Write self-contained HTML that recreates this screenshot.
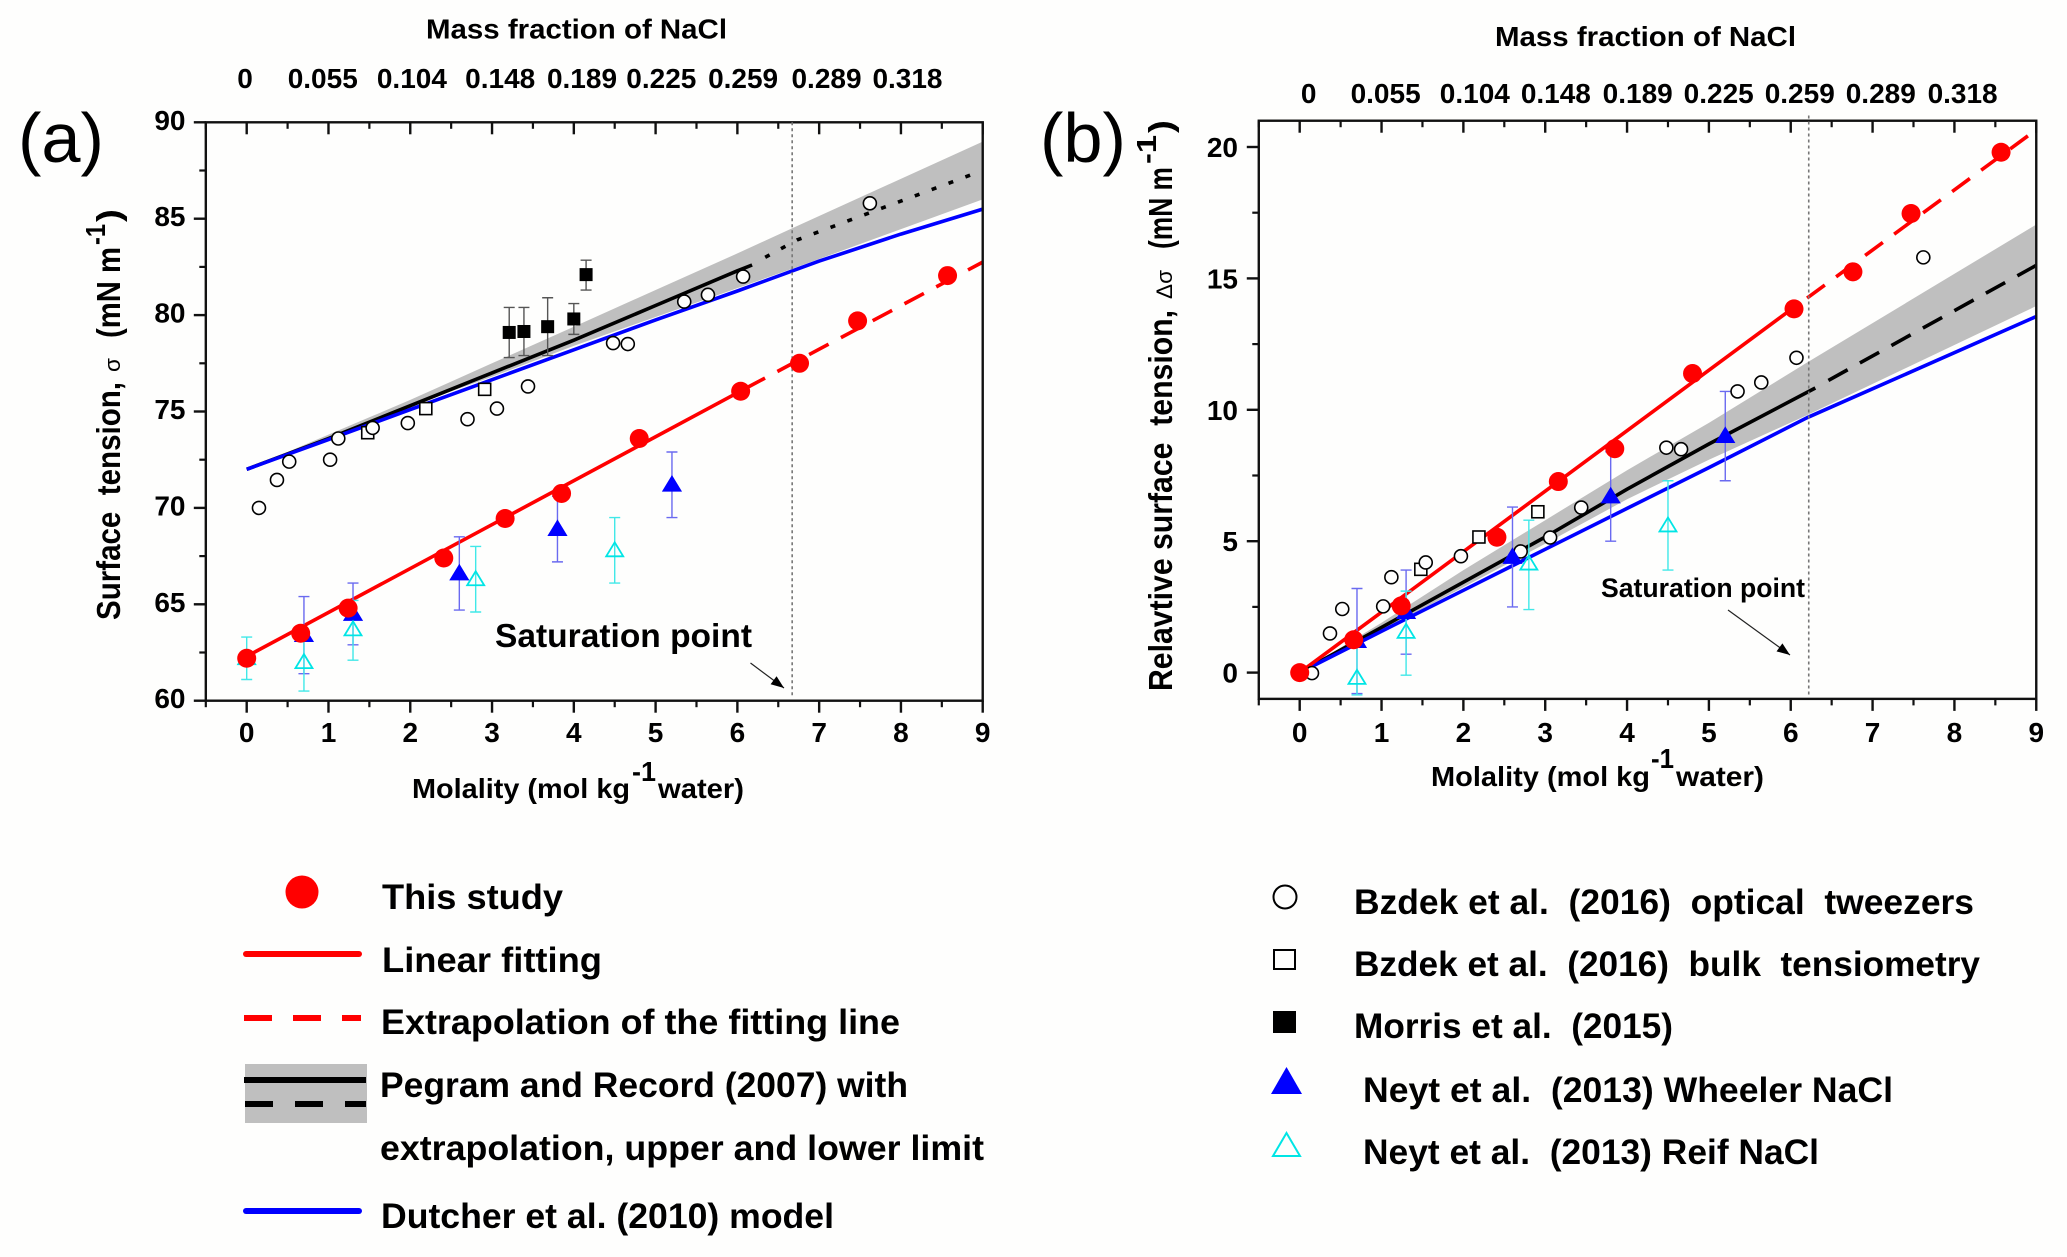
<!DOCTYPE html>
<html lang="en">
<head>
<meta charset="utf-8">
<title>Surface tension of NaCl solutions</title>
<style>
html,body{margin:0;padding:0;background:#fefefd;}
svg{display:block;}
text{font-family:"Liberation Sans",sans-serif;font-weight:bold;fill:#000;white-space:pre;}
.reg{font-weight:normal;}
</style>
</head>
<body>
<svg id="figure" xmlns="http://www.w3.org/2000/svg" width="2067" height="1257" viewBox="0 0 2067 1257">
  <rect x="0" y="0" width="2067" height="1257" fill="#fefefd"/>
  <g id="panelA"></g>
  <g id="panelB"></g>

  <!-- Panel a text -->
  <text class="reg" x="18" y="162" font-size="70" textLength="86" lengthAdjust="spacingAndGlyphs">(a)</text>
  <text x="426" y="38.5" font-size="28" textLength="301" lengthAdjust="spacingAndGlyphs">Mass fraction of NaCl</text>
  <text x="412" y="798" font-size="28" textLength="218" lengthAdjust="spacingAndGlyphs">Molality (mol kg</text>
  <text x="632" y="781" font-size="28" textLength="24" lengthAdjust="spacingAndGlyphs">-1</text>
  <text x="658" y="798" font-size="28" textLength="86" lengthAdjust="spacingAndGlyphs">water)</text>
  <text transform="translate(120,620) rotate(-90)" font-size="33" textLength="238" lengthAdjust="spacingAndGlyphs">Surface  tension,</text>
  <text class="reg" transform="translate(120,372) rotate(-90)" font-size="22" textLength="14" lengthAdjust="spacingAndGlyphs">σ</text>
  <text transform="translate(120,338) rotate(-90)" font-size="33" textLength="91" lengthAdjust="spacingAndGlyphs">(mN m</text>
  <text transform="translate(105,245) rotate(-90)" font-size="28" textLength="21" lengthAdjust="spacingAndGlyphs">-1</text>
  <text transform="translate(120,222) rotate(-90)" font-size="33" textLength="13" lengthAdjust="spacingAndGlyphs">)</text>
  <text x="495" y="647" font-size="33" textLength="257" lengthAdjust="spacingAndGlyphs">Saturation point</text>

  <!-- Panel b text -->
  <text class="reg" x="1040" y="162" font-size="70" textLength="86" lengthAdjust="spacingAndGlyphs">(b)</text>
  <text x="1495" y="46" font-size="28" textLength="301" lengthAdjust="spacingAndGlyphs">Mass fraction of NaCl</text>
  <text x="1431" y="786" font-size="28" textLength="219" lengthAdjust="spacingAndGlyphs">Molality (mol kg</text>
  <text x="1651" y="768" font-size="28" textLength="23" lengthAdjust="spacingAndGlyphs">-1</text>
  <text x="1676" y="786" font-size="28" textLength="88" lengthAdjust="spacingAndGlyphs">water)</text>
  <text transform="translate(1172,691) rotate(-90)" font-size="33" textLength="381" lengthAdjust="spacingAndGlyphs">Relavtive surface  tension,</text>
  <text class="reg" transform="translate(1172,299) rotate(-90)" font-size="22" textLength="29" lengthAdjust="spacingAndGlyphs">Δσ</text>
  <text transform="translate(1172,249) rotate(-90)" font-size="33" textLength="82" lengthAdjust="spacingAndGlyphs">(mN m</text>
  <text transform="translate(1156,164) rotate(-90)" font-size="28" textLength="29" lengthAdjust="spacingAndGlyphs">-1</text>
  <text transform="translate(1172,133) rotate(-90)" font-size="33" textLength="13" lengthAdjust="spacingAndGlyphs">)</text>
  <text x="1601" y="597" font-size="27" textLength="204" lengthAdjust="spacingAndGlyphs">Saturation point</text>

  <!-- Legend left -->
  <g>
    <circle cx="302" cy="892" r="16.5" fill="#ff0000"/>
    <text x="382" y="909" font-size="35" textLength="181" lengthAdjust="spacingAndGlyphs">This study</text>
    <line x1="246" x2="359" y1="954" y2="954" stroke="#ff0000" stroke-width="6" stroke-linecap="round"/>
    <text x="382" y="972" font-size="35" textLength="220" lengthAdjust="spacingAndGlyphs">Linear fitting</text>
    <line x1="244" x2="361" y1="1018" y2="1018" stroke="#ff0000" stroke-width="6" stroke-dasharray="28 21"/>
    <text x="381" y="1034" font-size="35" textLength="519" lengthAdjust="spacingAndGlyphs">Extrapolation of the fitting line</text>
    <rect x="245" y="1064" width="122" height="59" fill="#bfbfbf"/>
    <line x1="244" x2="366" y1="1080" y2="1080" stroke="#000" stroke-width="6"/>
    <line x1="245" x2="366" y1="1104" y2="1104" stroke="#000" stroke-width="6" stroke-dasharray="28 22"/>
    <text x="380" y="1097" font-size="35" textLength="528" lengthAdjust="spacingAndGlyphs">Pegram and Record (2007) with</text>
    <text x="380" y="1160" font-size="35" textLength="604" lengthAdjust="spacingAndGlyphs">extrapolation, upper and lower limit</text>
    <line x1="246" x2="359" y1="1211" y2="1211" stroke="#0000ff" stroke-width="6" stroke-linecap="round"/>
    <text x="381" y="1228" font-size="35" textLength="453" lengthAdjust="spacingAndGlyphs">Dutcher et al. (2010) model</text>

    <circle cx="1285" cy="897" r="11.5" fill="none" stroke="#000" stroke-width="2"/>
    <text x="1354" y="914" font-size="35" textLength="620" lengthAdjust="spacingAndGlyphs">Bzdek et al.  (2016)  optical  tweezers</text>
    <rect x="1274" y="950" width="21" height="19" fill="none" stroke="#000" stroke-width="2"/>
    <text x="1354" y="976" font-size="35" textLength="626" lengthAdjust="spacingAndGlyphs">Bzdek et al.  (2016)  bulk  tensiometry</text>
    <rect x="1273" y="1011" width="23" height="22" fill="#000"/>
    <text x="1354" y="1038" font-size="35" textLength="319" lengthAdjust="spacingAndGlyphs">Morris et al.  (2015)</text>
    <polygon points="1286.5,1067 1302,1094 1271,1094" fill="#0000ff"/>
    <text x="1363" y="1102" font-size="35" textLength="530" lengthAdjust="spacingAndGlyphs">Neyt et al.  (2013) Wheeler NaCl</text>
    <polygon points="1286.5,1133 1300,1156 1273,1156" fill="none" stroke="#00e5e5" stroke-width="2"/>
    <text x="1363" y="1164" font-size="35" textLength="456" lengthAdjust="spacingAndGlyphs">Neyt et al.  (2013) Reif NaCl</text>
  </g>
</svg>
<script>
// ---------- shared data ----------
const xTickLabels = [0,1,2,3,4,5,6,7,8,9];
const topTickLabels = ['0','0.055','0.104','0.148','0.189','0.225','0.259','0.289','0.318'];
const topLabelMolalityA = [-0.02,0.93,2.02,3.1,4.1,5.07,6.07,7.09,8.08];
const topLabelMolalityB = [0.11,1.05,2.14,3.13,4.13,5.12,6.11,7.1,8.1];

const redMolality = [0,0.66,1.24,2.41,3.16,3.85,4.8,6.04,6.76,7.47,8.57];
const circleMolality = [0.15,0.37,0.52,1.02,1.12,1.54,1.97,2.7,3.06,3.44,4.48,4.66,5.35,5.64,6.07,7.62];
const squareMolality = [1.48,2.19,2.91];
const blueTriMolality = [0.7,1.3,2.6,3.8,5.2];

// ---------- panel a values ----------
const aYTicks = [60,65,70,75,80,85,90];
const aSaturation = 6.67;
const aRed = [62.2,63.5,64.8,67.4,69.45,70.75,73.6,76.05,77.5,79.7,82.05];
const aFitMol = [0,6.1];
const aFitVal = [62.3,76.2];
const aFitExtMol = [6.1,9];
const aFitExtVal = [76.2,82.75];
const aBandMol = [0,1,1.5,2,3,4,5,6,6.67,9];
const aBandUpper = [72,73.8,74.7,75.6,77.5,79.4,81.3,83.2,84.5,89];
const aBandLower = [72,73.6,74.4,75.3,76.8,78.4,79.9,81.4,82.4,86];
const aBlackMol = [0,1,2,3,4,5,6,6.18];
const aBlackVal = [72,73.6,75.3,77,78.7,80.5,82.3,82.6];
const aBlackExtMol = [6.34,6.73,9];
const aBlackExtVal = [83,83.9,87.5];
const aBlueLineMol = [0,1,2,3,4,5,6,7,8,9];
const aBlueLineVal = [72,73.55,75.1,76.65,78.2,79.75,81.25,82.8,84.2,85.5];
const aCircles = [70,71.45,72.4,72.5,73.6,74.15,74.4,74.6,75.15,76.3,78.55,78.5,80.7,81.05,82,85.8];
const aSquares = [73.9,75.15,76.15];
const aBlackSqMol = [3.21,3.39,3.68,4,4.15];
const aBlackSq = [79.1,79.15,79.4,79.8,82.1];
const aBlackSqLo = [77.8,77.9,77.9,79,81.3];
const aBlackSqHi = [80.4,80.4,80.9,80.6,82.85];
const aBlueTri = [63.4,64.5,66.6,68.9,71.2];
const aBlueLo = [61.4,62.9,64.7,67.2,69.5];
const aBlueHi = [65.4,66.1,68.5,70.6,72.9];
const aCyanMol = [0,0.7,1.3,2.8,4.5];
const aCyan = [62.2,62,63.7,66.3,67.8];
const aCyanLo = [61.1,60.5,62.1,64.6,66.1];
const aCyanHi = [63.3,63.5,65.2,68,69.5];

// ---------- panel b values ----------
const bYTicks = [0,5,10,15,20];
const bSaturation = 6.22;
const bRed = [0,1.25,2.54,5.15,7.27,8.52,11.38,13.84,15.25,17.47,19.8];
const bFitMol = [0,6.04];
const bFitVal = [0,13.9];
const bFitExtMol = [6.2,9];
const bFitExtVal = [14.25,20.66];
const bBandMol = [0,1,2,3,4,5,6.2,9];
const bBandUpper = [0,1.9,3.9,5.8,7.7,9.5,11.8,17.05];
const bBandLower = [0,1.6,3.25,4.9,6.6,8.1,9.8,13.95];
const bBlackMol = [0,1,2,3,4,5,6.3];
const bBlackVal = [0,1.72,3.44,5.16,6.98,8.7,10.83];
const bBlackExtMol = [6.46,9];
const bBlackExtVal = [11.12,15.5];
const bBlueLineMol = [0,1,2,3,4,5,6.2,9];
const bBlueLineVal = [0,1.57,3.13,4.69,6.25,7.8,9.7,13.55];
const bCircles = [-0.02,1.49,2.42,2.52,3.63,4.19,4.43,4.61,5.14,6.28,8.56,8.5,10.7,11.04,11.98,15.8];
const bSquares = [3.93,5.16,6.12];
const bBlueTri = [1.2,2.3,4.4,6.7,9];
const bBlueLo = [-0.8,0.7,2.5,5,7.3];
const bBlueHi = [3.2,3.9,6.3,8.4,10.7];
const bCyanMol = [0.7,1.3,2.8,4.5];
const bCyan = [-0.2,1.55,4.15,5.6];
const bCyanLo = [-0.85,-0.1,2.4,3.9];
const bCyanHi = [1.4,3.1,5.8,7.3];

// ---------- axis functions ----------
const xA = v => 246.7 + v * 81.78;
const yA = v => 700.7 - (v - 60) * 19.28;
const xB = v => 1299.7 + v * 81.84;
const yB = v => 672.6 - v * 26.28;

const NS = 'http://www.w3.org/2000/svg';
function mk(parent, tag, attrs) {
  const e = document.createElementNS(NS, tag);
  for (const k in attrs) e.setAttribute(k, attrs[k]);
  parent.appendChild(e);
  return e;
}
function pointsOf(xs, ys, fx, fy) {
  return xs.map((m, i) => fx(m).toFixed(1) + ',' + fy(ys[i]).toFixed(1));
}
function drawLine(g, xs, ys, fx, fy, color, dash, name) {
  const p = mk(g, 'polyline', {points: pointsOf(xs, ys, fx, fy).join(' '), fill: 'none', stroke: color, 'stroke-width': 3.6, 'stroke-dasharray': dash || 'none', 'stroke-linejoin': 'round'});
  
  
}
function drawBand(g, xs, up, lo, fx, fy) {
  const top = pointsOf(xs, up, fx, fy);
  const bottom = pointsOf(xs, lo, fx, fy).reverse();
  const p = mk(g, 'polygon', {points: top.concat(bottom).join(' '), fill: '#bfbfbf'});
  
  
}
function drawErrors(g, xs, lo, hi, fx, fy, color, name) {
  xs.forEach((m, i) => {
    const x = fx(m), y1 = fy(lo[i]), y2 = fy(hi[i]);
    const p = mk(g, 'path', {d: `M${x-5.5} ${y1}H${x+5.5}M${x-5.5} ${y2}H${x+5.5}M${x} ${y1}V${y2}`, fill: 'none', stroke: color, 'stroke-width': 1.4});
    
    
  });
}
function drawCircles(g, xs, ys, fx, fy, r, fill, stroke, sw, name) {
  xs.forEach((m, i) => {
    const c = mk(g, 'circle', {cx: fx(m), cy: fy(ys[i]), r: r, fill: fill, stroke: stroke, 'stroke-width': sw});
    
    
  });
}
function drawSquares(g, xs, ys, fx, fy, s, fill, sw, name) {
  xs.forEach((m, i) => {
    const r = mk(g, 'rect', {x: fx(m) - s / 2, y: fy(ys[i]) - s / 2, width: s, height: s, fill: fill, stroke: '#000', 'stroke-width': sw});
    
    
  });
}
function drawTriangles(g, xs, ys, fx, fy, fill, stroke, name) {
  xs.forEach((m, i) => {
    const x = fx(m), y = fy(ys[i]);
    const t = mk(g, 'polygon', {points: `${x},${y-8} ${x+8.5},${y+6} ${x-8.5},${y+6}`, fill: fill, stroke: stroke, 'stroke-width': 1.8});
    
    
  });
}
function drawAxes(g, fx, fy, yTicks, yMinor, yBottom, yTop, labelRight, labelDy, topFx, topBaseline) {
  const left = fx(-0.5), right = fx(9), bottom = fy(yBottom), top = fy(yTop);
  const frame = mk(g, 'rect', {x: left, y: top, width: right - left, height: bottom - top, fill: 'none', stroke: '#111', 'stroke-width': 2.4});
  
  

  xTickLabels.forEach(v => {
    const b = mk(g, 'line', {x1: fx(v), x2: fx(v), y1: bottom, y2: bottom + 12, stroke: '#111', 'stroke-width': 2.4});
    
    
    const t = mk(g, 'line', {x1: fx(v), x2: fx(v), y1: top, y2: top + 12, stroke: '#111', 'stroke-width': 2.4});
    
    
    const lab = mk(g, 'text', {x: fx(v), y: 742, 'font-size': 28, 'text-anchor': 'middle'});
    lab.textContent = v;
    
    

    const mv = v - 0.5;
    const bm = mk(g, 'line', {x1: fx(mv), x2: fx(mv), y1: bottom, y2: bottom + 6.5, stroke: '#111', 'stroke-width': 2.2});
    
    
    const tm = mk(g, 'line', {x1: fx(mv), x2: fx(mv), y1: top, y2: top + 6.5, stroke: '#111', 'stroke-width': 2.2});
    
    
  });
  yTicks.forEach(v => {
    const t = mk(g, 'line', {x1: left - 12, x2: left, y1: fy(v), y2: fy(v), stroke: '#111', 'stroke-width': 2.4});
    
    
    const lab = mk(g, 'text', {x: labelRight, y: fy(v) + labelDy, 'font-size': 28, 'text-anchor': 'end'});
    lab.textContent = v;
    
    
  });
  yMinor.forEach(v => {
    const t = mk(g, 'line', {x1: left - 6.5, x2: left, y1: fy(v), y2: fy(v), stroke: '#111', 'stroke-width': 2.2});
    
    
  });
  topTickLabels.forEach((s, i) => {
    const lab = mk(g, 'text', {x: fx(topFx[i]), y: topBaseline, 'font-size': 28, 'text-anchor': 'middle'});
    lab.textContent = s;
    
    
  });
}
function drawSaturation(g, x, y1, y2, ax1, ay1, ax2, ay2) {
  const d = mk(g, 'line', {x1: x, x2: x, y1: y1, y2: y2, stroke: '#777', 'stroke-width': 1.6, 'stroke-dasharray': '3 3'});
  
  
  const a = mk(g, 'line', {x1: ax1, y1: ay1, x2: ax2, y2: ay2, stroke: '#222', 'stroke-width': 1.2});
  
  
  const ang = Math.atan2(ay2 - ay1, ax2 - ax1), L = 13, W = 5;
  const bx = ax2 - L * Math.cos(ang), by = ay2 - L * Math.sin(ang);
  const nx = -Math.sin(ang) * W, ny = Math.cos(ang) * W;
  const h = mk(g, 'polygon', {points: `${ax2},${ay2} ${bx+nx},${by+ny} ${bx-nx},${by-ny}`, fill: '#000'});
  
  
}

// ---------- panel a ----------
const ga = document.getElementById('panelA');
drawBand(ga, aBandMol, aBandUpper, aBandLower, xA, yA);
drawLine(ga, aBlackMol, aBlackVal, xA, yA, '#000', null, 'pegram-line');
drawLine(ga, aBlueLineMol, aBlueLineVal, xA, yA, '#0000ff', null, 'dutcher-model-line');
drawLine(ga, aBlackExtMol, aBlackExtVal, xA, yA, '#000', '5 13', 'pegram-extrapolation-line');
drawLine(ga, aFitMol, aFitVal, xA, yA, '#ff0000', null, 'linear-fit-line');
drawLine(ga, aFitExtMol, aFitExtVal, xA, yA, '#ff0000', '22 14', 'fit-extrapolation-line');
drawAxes(ga, xA, yA, aYTicks, [62.5,67.5,72.5,77.5,82.5,87.5], 60, 90, 185.5, 7.5, topLabelMolalityA, 88);
drawSaturation(ga, xA(aSaturation), yA(90), yA(60.2), 750.5, 663, 784, 688);
drawErrors(ga, aBlackSqMol, aBlackSqLo, aBlackSqHi, xA, yA, '#555', 'morris-error-bar');
drawErrors(ga, blueTriMolality, aBlueLo, aBlueHi, xA, yA, '#6a6af0', 'neyt-wheeler-error-bar');
drawErrors(ga, aCyanMol, aCyanLo, aCyanHi, xA, yA, '#40e8e8', 'neyt-reif-error-bar');
drawSquares(ga, squareMolality, aSquares, xA, yA, 12, '#fefefd', 1.6, 'bzdek-bulk-point');
drawSquares(ga, aBlackSqMol, aBlackSq, xA, yA, 13, '#000', 0, 'morris-point');
drawCircles(ga, circleMolality, aCircles, xA, yA, 6.5, '#fefefd', '#000', 1.6, 'bzdek-tweezers-point');
drawTriangles(ga, blueTriMolality, aBlueTri, xA, yA, '#0000ff', '#0000ff', 'neyt-wheeler-point');
drawTriangles(ga, aCyanMol, aCyan, xA, yA, 'none', '#00e5e5', 'neyt-reif-point');
drawCircles(ga, redMolality, aRed, xA, yA, 9.5, '#ff0000', 'none', 0, 'this-study-point');

// ---------- panel b ----------
const gb = document.getElementById('panelB');
drawBand(gb, bBandMol, bBandUpper, bBandLower, xB, yB);
drawLine(gb, bBlackMol, bBlackVal, xB, yB, '#000', null, 'pegram-line');
drawLine(gb, bBlueLineMol, bBlueLineVal, xB, yB, '#0000ff', null, 'dutcher-model-line');
drawLine(gb, bBlackExtMol, bBlackExtVal, xB, yB, '#000', '22 14', 'pegram-extrapolation-line');
drawLine(gb, bFitMol, bFitVal, xB, yB, '#ff0000', null, 'linear-fit-line');
drawLine(gb, bFitExtMol, bFitExtVal, xB, yB, '#ff0000', '22 14', 'fit-extrapolation-line');
drawAxes(gb, xB, yB, bYTicks, [2.5,7.5,12.5,17.5], -1, 21, 1238, 10, topLabelMolalityB, 103);
drawSaturation(gb, xB(bSaturation), yB(21.2), yB(-0.9), 1728, 610, 1790, 655);
drawErrors(gb, blueTriMolality, bBlueLo, bBlueHi, xB, yB, '#6a6af0', 'neyt-wheeler-error-bar');
drawErrors(gb, bCyanMol, bCyanLo, bCyanHi, xB, yB, '#40e8e8', 'neyt-reif-error-bar');
drawSquares(gb, squareMolality, bSquares, xB, yB, 12, '#fefefd', 1.6, 'bzdek-bulk-point');
drawCircles(gb, circleMolality, bCircles, xB, yB, 6.5, '#fefefd', '#000', 1.6, 'bzdek-tweezers-point');
drawTriangles(gb, blueTriMolality, bBlueTri, xB, yB, '#0000ff', '#0000ff', 'neyt-wheeler-point');
drawTriangles(gb, bCyanMol, bCyan, xB, yB, 'none', '#00e5e5', 'neyt-reif-point');
drawCircles(gb, redMolality, bRed, xB, yB, 9.5, '#ff0000', 'none', 0, 'this-study-point');
</script>
</body>
</html>
